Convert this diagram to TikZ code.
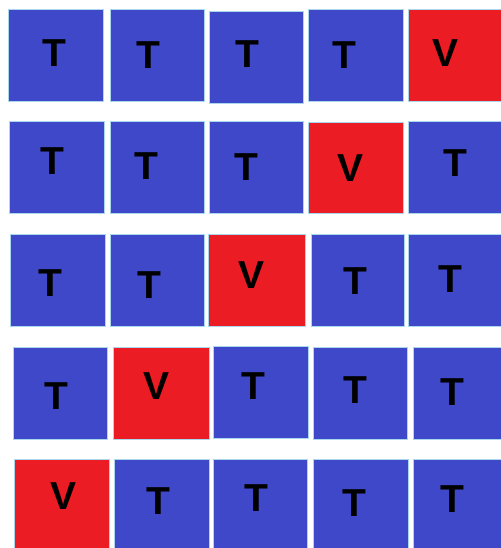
\documentclass[tikz,border=0pt]{standalone}
\usepackage{fontspec}
\setmainfont{Liberation Sans}
\definecolor{cblue}{RGB}{63,72,200}
\definecolor{cred}{RGB}{236,28,36}
\definecolor{cedge}{RGB}{170,215,235}
\tikzset{
  cellbox/.style={draw=cedge, line width=0.7pt, inner sep=0pt, outer sep=0pt},
  letter/.style={inner sep=0pt, font=\fontsize{39}{39}\selectfont\bfseries, text=black}
}
\newcommand{\mkcell}[6]{%
  \node[cellbox, fill=#6, minimum width={(#4-#2)*1pt}, minimum height={(#5-#3)*1pt}]
    (#1) at ({(#2+#4)/2},{(#3+#5)/2}) {};}
\begin{document}
\begin{tikzpicture}[x=1pt,y=-1pt]
\useasboundingbox (0,0) rectangle (500,548);
% row 1
\mkcell{c11}{8}{9}{103}{101}{cblue}
\mkcell{c12}{110}{9}{204}{101}{cblue}
\mkcell{c13}{209}{11}{303}{103}{cblue}
\mkcell{c14}{308}{9}{403}{101}{cblue}
\mkcell{c15}{408}{9}{502}{101}{cred}
% row 2
\mkcell{c21}{9}{121}{104}{213}{cblue}
\mkcell{c22}{110}{121}{204}{213}{cblue}
\mkcell{c23}{209}{121}{303}{213}{cblue}
\mkcell{c24}{308}{122}{403}{213}{cred}
\mkcell{c25}{408}{121}{502}{213}{cblue}
% row 3
\mkcell{c31}{10}{234}{105}{326}{cblue}
\mkcell{c32}{110}{234}{204}{326}{cblue}
\mkcell{c33}{208}{234}{305}{326}{cred}
\mkcell{c34}{311}{234}{404}{326}{cblue}
\mkcell{c35}{408}{234}{502}{326}{cblue}
% row 4
\mkcell{c41}{13}{347}{107}{439}{cblue}
\mkcell{c42}{113}{347}{209}{439}{cred}
\mkcell{c43}{213}{346}{308}{438}{cblue}
\mkcell{c44}{313}{347}{407}{439}{cblue}
\mkcell{c45}{413}{347}{502}{439}{cblue}
% row 5
\mkcell{c51}{14}{459}{109}{550}{cred}
\mkcell{c52}{114}{459}{209}{550}{cblue}
\mkcell{c53}{213}{459}{307}{550}{cblue}
\mkcell{c54}{313}{459}{408}{550}{cblue}
\mkcell{c55}{413}{459}{502}{550}{cblue}
% letters
\node[letter] (t11) at (54,53) {T};
\node[letter] (t12) at (148,55) {T};
\node[letter] (t13) at (247,54) {T};
\node[letter] (t14) at (344,55) {T};
\node[letter] (t15) at (445,53) {V};
\node[letter] (t21) at (52,161) {T};
\node[letter] (t22) at (146,166) {T};
\node[letter] (t23) at (246,167) {T};
\node[letter] (t24) at (351,168) {V};
\node[letter] (t25) at (455,163) {T};
\node[letter] (t31) at (50,283) {T};
\node[letter] (t32) at (149,285) {T};
\node[letter] (t33) at (252,275) {V};
\node[letter] (t34) at (355,281) {T};
\node[letter] (t35) at (450,279) {T};
\node[letter] (t41) at (56,396) {T};
\node[letter] (t42) at (157,386) {V};
\node[letter] (t43) at (253,386) {T};
\node[letter] (t44) at (355,390) {T};
\node[letter] (t45) at (452,392) {T};
\node[letter] (t51) at (64,496) {V};
\node[letter] (t52) at (158,501) {T};
\node[letter] (t53) at (256,498) {T};
\node[letter] (t54) at (354,503) {T};
\node[letter] (t55) at (452,499) {T};
\end{tikzpicture}
\end{document}
